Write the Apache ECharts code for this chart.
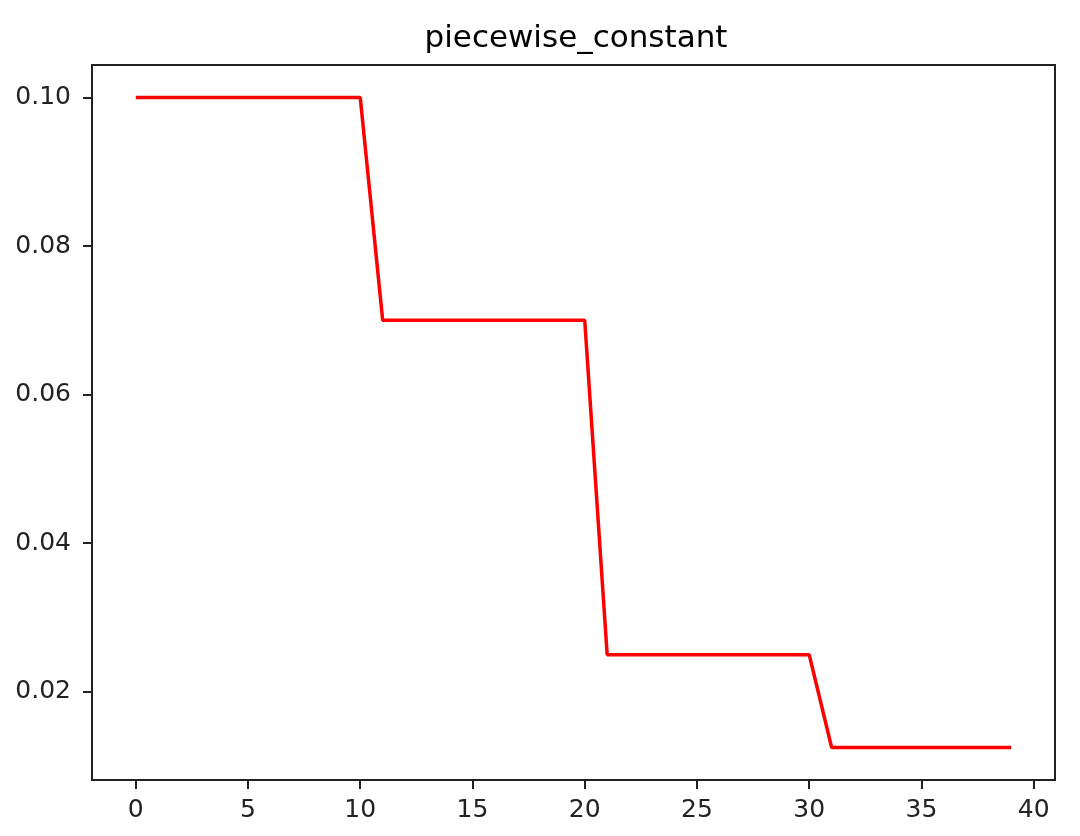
<!DOCTYPE html>
<html>
<head>
<meta charset="utf-8">
<script src="https://cdn.jsdelivr.net/npm/echarts@6/dist/echarts.min.js"></script>
<style>html,body{margin:0;padding:0;background:#fff}#c{width:1080px;height:836px}</style>
</head>
<body>
<div id="c"></div>
<script>
const titleText = 'piecewise_constant';
const steps = [0,1,2,3,4,5,6,7,8,9,10,11,12,13,14,15,16,17,18,19,20,21,22,23,24,25,26,27,28,29,30,31,32,33,34,35,36,37,38,39];
const lrValues = [0.1,0.1,0.1,0.1,0.1,0.1,0.1,0.1,0.1,0.1,0.1,
  0.07,0.07,0.07,0.07,0.07,0.07,0.07,0.07,0.07,0.07,
  0.025,0.025,0.025,0.025,0.025,0.025,0.025,0.025,0.025,0.025,
  0.0125,0.0125,0.0125,0.0125,0.0125,0.0125,0.0125,0.0125,0.0125];
const xTicks = [0,5,10,15,20,25,30,35,40];
const yTicks = [0.02,0.04,0.06,0.08,0.10];

const xMin = -1.95, xMax = 40.95;
const yMin = 0.008125, yMax = 0.104375;

const chart = echarts.init(document.getElementById('c'), null, {renderer: 'canvas'});
const font = 'DejaVu Sans';
chart.setOption({
  animation: false,
  backgroundColor: '#fff',
  title: {
    text: titleText,
    left: 571, top: 18, textAlign: 'center',
    textStyle: {fontFamily: font, fontSize: 31, fontWeight: 'normal', color: '#000'}
  },
  grid: {left: 92, right: 25, top: 65, bottom: 56, show: true, borderColor: '#222', borderWidth: 2, backgroundColor: 'transparent'},
  xAxis: {
    type: 'value', min: xMin, max: xMax,
    splitLine: {show: false},
    axisLine: {show: true, onZero: false, lineStyle: {color: '#222', width: 2}},
    axisTick: {show: true, length: 9, inside: false, customValues: xTicks, lineStyle: {color: '#222', width: 2}},
    axisLabel: {customValues: xTicks, margin: 18, fontFamily: font, fontSize: 25, color: '#222', showMinLabel: true, showMaxLabel: true}
  },
  yAxis: {
    type: 'value', min: yMin, max: yMax,
    splitLine: {show: false},
    axisLine: {show: true, onZero: false, lineStyle: {color: '#222', width: 2}},
    axisTick: {show: true, length: 9, inside: false, customValues: yTicks, lineStyle: {color: '#222', width: 2}},
    axisLabel: {customValues: yTicks, margin: 21, fontFamily: font, fontSize: 25, color: '#222',
      formatter: v => v.toFixed(2)}
  },
  series: [{
    type: 'line',
    data: steps.map((s, i) => [s, lrValues[i]]),
    showSymbol: false, symbol: 'none',
    lineStyle: {color: '#ff0000', width: 3.5},
    itemStyle: {color: '#ff0000'}
  }]
});
</script>
</body>
</html>
